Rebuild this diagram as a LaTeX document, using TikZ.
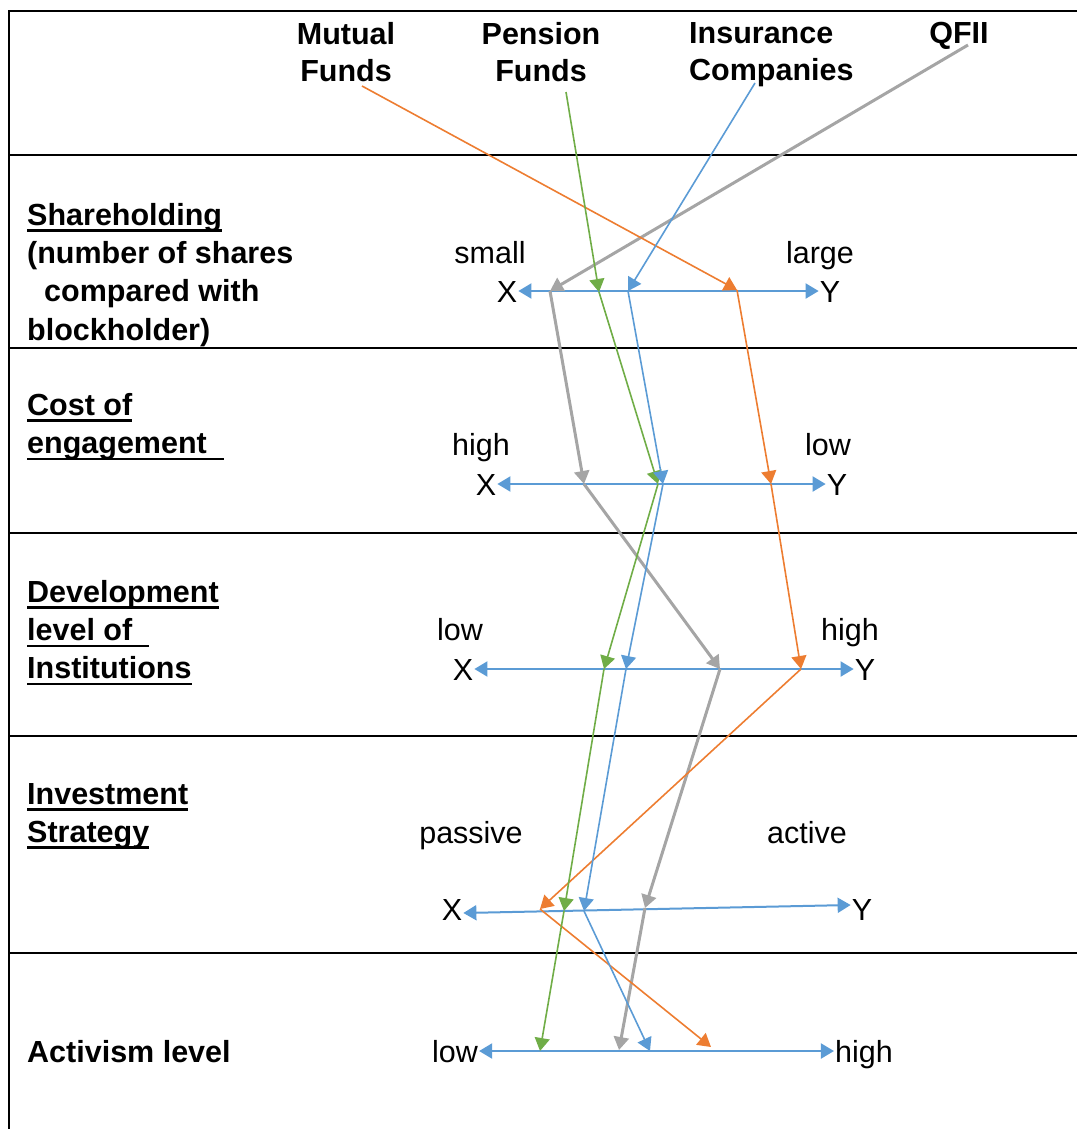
\documentclass[tikz,border=0pt]{standalone}
\usepackage{fontspec}
\setmainfont{Liberation Sans}
\usetikzlibrary{arrows.meta}

\definecolor{mforange}{HTML}{ED7D31}
\definecolor{pfgreen}{HTML}{70AD47}
\definecolor{icblue}{HTML}{5B9BD5}
\definecolor{qfgray}{HTML}{A5A5A5}

\newsavebox{\ulbox}
\newcommand{\ulw}[1]{\sbox{\ulbox}{#1}\rlap{\rule[-6.5pt]{\wd\ulbox}{2.5pt}}\usebox{\ulbox}}

\begin{document}
\begin{tikzpicture}[x=1pt, y=-1pt,
    every node/.style={font=\fontsize{30.5pt}{38.3pt}\selectfont, inner sep=1pt},
    head/.style={font=\fontsize{30.5pt}{37.5pt}\selectfont\bfseries, align=center, anchor=north, inner sep=0pt},
    rowlabel/.style={font=\fontsize{30.5pt}{38.3pt}\selectfont\bfseries, align=left, anchor=north west, inner sep=0pt},
    scalelabel/.style={anchor=base},
    axisend/.style={anchor=base, text height=22pt, text depth=0pt},
    axis/.style={icblue, line width=2pt, {Triangle[length=13pt,width=15pt]}-{Triangle[length=13pt,width=15pt]}},
    investor/.style={line width=1.6pt, -{Triangle[length=13pt,width=15pt]}},
    mfline/.style={investor, mforange},
    pfline/.style={investor, pfgreen},
    icline/.style={investor, icblue},
    qfline/.style={investor, qfgray, line width=3pt}]
    \useasboundingbox (0,0) rectangle (1077,1129);

    % Table
    \draw[line width=1.5pt] (9,1129) -- (9,11) -- (1077,11);
    \foreach \y in {155,348,533,736,953}
        \draw[line width=1.5pt] (9,\y) -- (1077,\y);

    % Investors
    \node[head] (mutual) at (346,22) {Mutual\\Funds};
    \node[head] (pension) at (541,22) {Pension\\Funds};
    \node[head, align=left, anchor=north west] (insurance) at (689,22) {Insurance\\Companies};
    \node[head] (qfii) at (959,22) {QFII};

    % Row labels
    \node[rowlabel] (share) at (27,203) {\ulw{Shareholding}\\(number of shares\\\hspace*{17pt}compared with\\blockholder)};
    \node[rowlabel] (cost) at (27,393) {\ulw{Cost of}\\\ulw{engagement\ \ }};
    \node[rowlabel] (devel) at (27,580) {\ulw{Development}\\\ulw{level of\ \ }\\\ulw{Institutions}};
    \node[rowlabel] (invest) at (27,783) {\ulw{Investment}\\\ulw{Strategy}};
    \node[rowlabel, anchor=base west] (activ) at (27,1062) {Activism level};

    % Scales
    \node[scalelabel] (small) at (490,263) {small};
    \node[scalelabel] (large) at (820,263) {large};
    \node[axisend] (x1) at (507,302) {X};
    \node[axisend] (y1) at (830,302) {Y};

    \node[scalelabel] (costhigh) at (481,455) {high};
    \node[scalelabel] (costlow) at (828,455) {low};
    \node[axisend] (x2) at (486,495) {X};
    \node[axisend] (y2) at (837,495) {Y};

    \node[scalelabel] (devlow) at (460,640) {low};
    \node[scalelabel] (devhigh) at (850,640) {high};
    \node[axisend] (x3) at (463,680) {X};
    \node[axisend] (y3) at (865,680) {Y};

    \node[scalelabel] (passive) at (471,843) {passive};
    \node[scalelabel] (active) at (807,843) {active};
    \node[axisend] (x4) at (452,920) {X};
    \node[axisend] (y4) at (862,920) {Y};

    \node[axisend] (actlow) at (455,1062) {low};
    \node[axisend] (acthigh) at (864,1062) {high};

    \draw[axis] (x1) -- (y1);
    \draw[axis] (x2) -- (y2);
    \draw[axis] (x3) -- (y3);
    \draw[axis] ([yshift=-4pt]x4.east) -- ([yshift=4pt]y4.west);
    \draw[axis] (actlow) -- (acthigh);

    % Paths of the investors
    \coordinate (m0) at (362,86);
    \coordinate (m1) at (737,290);
    \coordinate (m2) at (771,484);
    \coordinate (m3) at (801,669);
    \coordinate (m4) at (540,909);
    \coordinate (m5) at (711,1047);

    \coordinate (p0) at (566,92);
    \coordinate (p1) at (599,292);
    \coordinate (p2) at (658,484);
    \coordinate (p3) at (604,669);
    \coordinate (p4) at (564,911);
    \coordinate (p5) at (540,1051);

    \coordinate (i0) at (755,83);
    \coordinate (i1) at (628,291);
    \coordinate (i2) at (663,484);
    \coordinate (i3) at (626,669);
    \coordinate (i4) at (584,911);
    \coordinate (i5) at (650,1051);

    \coordinate (q0) at (968,45);
    \coordinate (q1) at (550,291);
    \coordinate (q2) at (584,484);
    \coordinate (q3) at (720,669);
    \coordinate (q4) at (645,908);
    \coordinate (q5) at (619,1050);

    \foreach \a/\b in {0/1,1/2,2/3,3/4,4/5} {
        \draw[qfline] (q\a) -- (q\b);
        \draw[mfline] (m\a) -- (m\b);
        \draw[pfline] (p\a) -- (p\b);
        \draw[icline] (i\a) -- (i\b);
    }
\end{tikzpicture}
\end{document}
